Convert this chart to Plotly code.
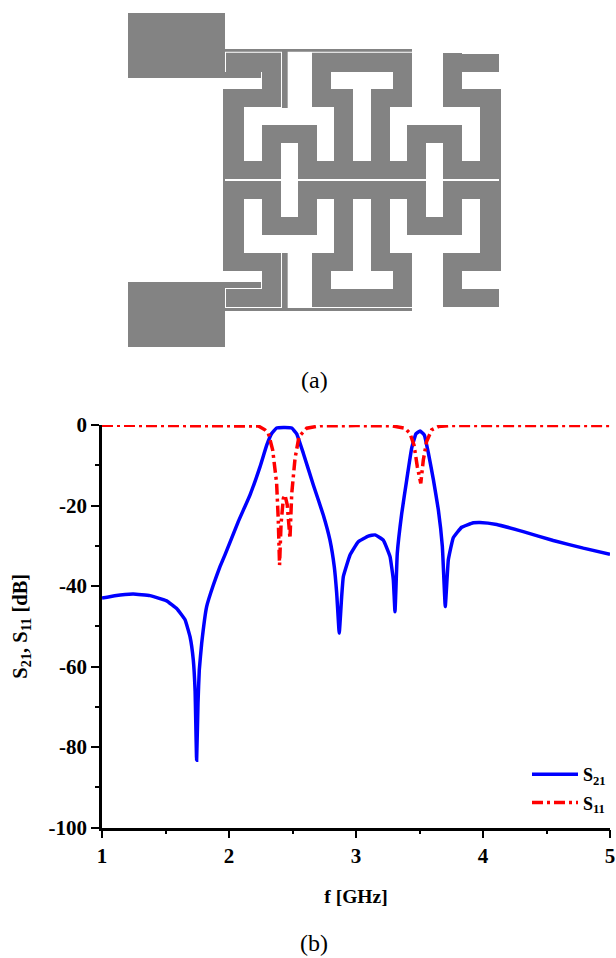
import plotly.graph_objects as go

# ---- data (b) ----
f_s21 = [1.0,1.1,1.246,1.378,1.509,1.588,1.654,1.693,1.719,1.733,1.745,1.756,1.766,1.785,1.824,1.876,1.929,1.969,2.073,2.165,2.244,2.297,2.336,2.375,2.428,2.494,2.533,2.585,2.664,2.743,2.795,2.829,2.848,2.868,2.887,2.9,2.953,3.018,3.097,3.15,3.215,3.268,3.294,3.307,3.325,3.36,3.399,3.438,3.472,3.504,3.538,3.57,3.61,3.648,3.68,3.703,3.727,3.766,3.832,3.924,3.976,4.108,4.317,4.553,4.79,5.0]
s21 = [-43,-42.4,-42,-42.4,-43.7,-45.6,-48.4,-52.6,-58.4,-66,-83.3,-69,-60.9,-54.2,-45.1,-39.8,-35.2,-32.2,-24,-17.4,-10.4,-5,-2.1,-0.75,-0.6,-0.75,-2.2,-7,-14.9,-22.4,-28.6,-35.2,-41.8,-51.7,-42.7,-37.7,-32.3,-29,-27.6,-27.3,-28.6,-32.7,-38.5,-46.4,-31.9,-22,-13.7,-5.8,-2.2,-1.5,-2.5,-7,-13.7,-21,-30.2,-45.1,-33.5,-28,-25.4,-24.3,-24.2,-24.7,-26.5,-28.7,-30.6,-32.1]

f_s11 = [1.0,1.5,2.0,2.15,2.231,2.283,2.31,2.344,2.375,2.388,2.398,2.41,2.428,2.441,2.459,2.48,2.494,2.52,2.551,2.612,2.717,3.0,3.28,3.386,3.425,3.457,3.483,3.51,3.53,3.556,3.596,3.648,3.75,4.0,4.5,5.0]
s11 = [-0.05,-0.05,-0.1,-0.15,-0.25,-1.2,-2.1,-6.2,-14.5,-23.6,-34.8,-24.5,-18.2,-17.4,-19.9,-28.2,-17,-8.3,-2.9,-0.8,-0.2,-0.15,-0.2,-0.8,-2.1,-5,-10.4,-14.5,-8.7,-4.1,-1.2,-0.4,-0.15,-0.1,-0.1,-0.1]

x_ticks = [1, 2, 3, 4, 5]
y_ticks = [0, -20, -40, -60, -80, -100]
y_labels = ["0", "-20", "-40", "-60", "-80", "-100"]

# ---- layout diagram (a), rectangles x0, x1, y0, y1 in diagram units ----
gray_rects = [
    (24,315,39,234),(315,423,216,234),(315,876,147,155),(486,503,155,324),
    (318,483,158,216),(426,483,158,321),(309,483,267,321),(309,372,267,537),
    (309,483,483,537),(426,483,375,537),(426,591,375,429),(534,591,375,537),
    (534,918,483,537),(642,699,321,537),(576,699,267,321),(576,633,158,321),
    (576,876,158,216),(819,876,158,321),(753,876,267,321),(753,810,267,537),
    (861,918,375,537),(861,1026,375,429),(969,1026,375,537),(969,1143,483,537),
    (1080,1143,267,537),(969,1143,267,321),(969,1026,159,321),(969,1137,162,216),
    (309,315,537,543),(1137,1143,537,543),
    (309,372,543,813),(309,483,543,597),(426,483,543,705),(426,591,651,705),
    (534,591,543,705),(534,918,543,597),(642,699,543,813),(576,699,759,813),
    (576,633,759,921),(576,876,867,921),(819,876,759,921),(753,876,759,813),
    (753,810,543,813),(861,918,543,705),(861,1026,651,705),(969,1026,543,705),
    (969,1143,543,597),(1080,1143,543,813),(969,1143,759,813),(969,1026,759,921),
    (969,1137,867,921),(309,483,759,813),(426,483,759,921),(318,483,867,921),
    (315,423,846,864),(24,315,846,1041),(486,503,759,924),(315,876,924,933),
]

def rect_path(rects):
    xs, ys = [], []
    for x0, x1, y0, y1 in rects:
        xs += [x0, x1, x1, x0, x0, None]
        ys += [y0, y0, y1, y1, y0, None]
    return xs, ys

GRAY = "#838383"
SERIF = "Liberation Serif"
W, H = 616, 958

fig = go.Figure()
dx, dy = rect_path(gray_rects)
fig.add_trace(go.Scatter(x=dx, y=dy, xaxis="x2", yaxis="y2", mode="lines", fill="toself",
                         fillcolor=GRAY, line=dict(width=0), showlegend=False, hoverinfo="skip"))
fig.add_trace(go.Scatter(x=f_s21, y=s21, mode="lines", name="S<sub>21</sub>", legendgroup="a",
                         line=dict(color="#0000ff", width=3.5, shape="spline", smoothing=0.3), cliponaxis=False))
fig.add_trace(go.Scatter(x=f_s11, y=s11, mode="lines", name="S<sub>11</sub>", legendgroup="b",
                         line=dict(color="#ff0000", width=3.5, dash="11px,4px,3px,4px"), cliponaxis=False))

px_x = lambda p: p / W
px_y = lambda p: 1 - p / H

fig.update_layout(
    width=W, height=H, autosize=False, margin=dict(l=0, r=0, t=0, b=0, autoexpand=False),
    paper_bgcolor="white", plot_bgcolor="white",
    font=dict(family=SERIF, color="black"),
    xaxis=dict(domain=[px_x(102), px_x(610)], range=[1, 5], tickvals=x_ticks, ticks="outside",
               ticklen=8, tickwidth=2, tickcolor="black", showgrid=False, zeroline=False,
               showline=True, linewidth=2.5, linecolor="black",
               minor=dict(dtick=0.5, ticks="outside", ticklen=4, tickwidth=2, tickcolor="black", showgrid=False),
               tickfont=dict(family=SERIF, size=21, weight="bold"),
               title=dict(text="f [GHz]", font=dict(family=SERIF, size=19.5, weight="bold"), standoff=22)),
    yaxis=dict(domain=[px_y(827.5), px_y(425)], range=[-100, 0], tickvals=y_ticks, ticktext=y_labels, ticks="outside",
               ticklen=8, tickwidth=2, tickcolor="black", showgrid=False, zeroline=False,
               showline=True, linewidth=2.5, linecolor="black",
               minor=dict(dtick=10, ticks="outside", ticklen=4, tickwidth=2, tickcolor="black", showgrid=False),
               tickfont=dict(family=SERIF, size=21, weight="bold"),
               title=dict(text="S<sub>21</sub>, S<sub>11</sub> [dB]", font=dict(family=SERIF, size=20.5, weight="bold"), standoff=16)),
    xaxis2=dict(domain=[px_x(120), px_x(510)], range=[0, 1170], visible=False, anchor="y2"),
    yaxis2=dict(domain=[px_y(360), 1], range=[1080, 0], visible=False, anchor="x2"),
    legend=dict(x=px_x(527), y=px_y(756), xanchor="left", yanchor="top", bgcolor="rgba(0,0,0,0)",
                itemwidth=46, font=dict(family=SERIF, size=18, weight="bold"), tracegroupgap=2),
    annotations=[
        dict(text="(a)", x=px_x(314), y=px_y(380), xref="paper", yref="paper", showarrow=False,
             xanchor="center", yanchor="middle", font=dict(family=SERIF, size=24)),
        dict(text="(b)", x=px_x(314), y=px_y(943), xref="paper", yref="paper", showarrow=False,
             xanchor="center", yanchor="middle", font=dict(family=SERIF, size=24)),
    ],
)
fig.write_html("out.html", config=dict(displayModeBar=False),
               post_script="document.body.style.margin='0';document.documentElement.style.overflow='hidden';")
